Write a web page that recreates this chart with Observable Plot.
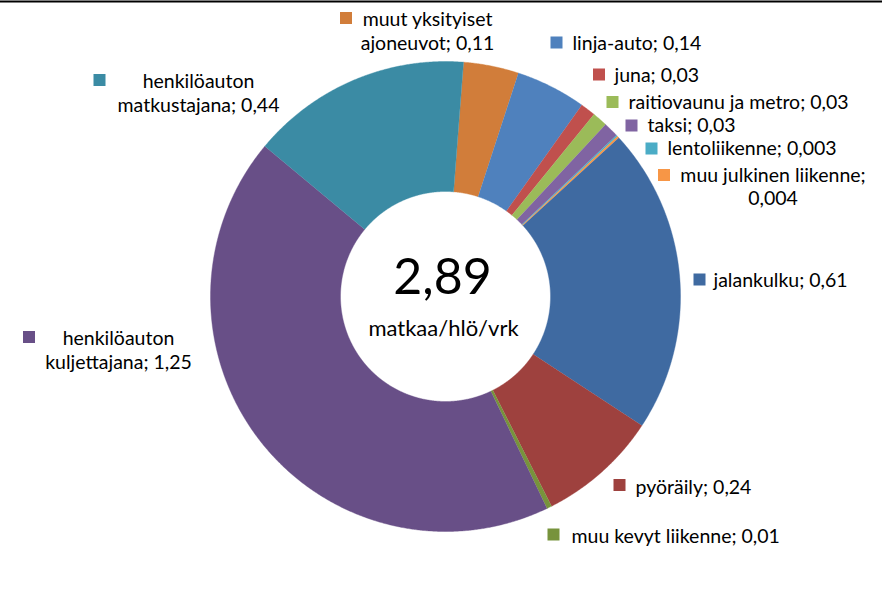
<!DOCTYPE html>
<html><head><meta charset="utf-8">
<script src="https://cdn.jsdelivr.net/npm/d3@7"></script>
<script src="https://cdn.jsdelivr.net/npm/@observablehq/plot@0.6"></script>
<style>
body{margin:0;background:#fff;}
#chart svg{display:block;}
</style></head><body><div id="chart"></div>
<script>
// ---- data ----
const categories = ["muut yksityiset ajoneuvot","linja-auto","juna","raitiovaunu ja metro","taksi","lentoliikenne","muu julkinen liikenne","jalankulku","pyöräily","muu kevyt liikenne","henkilöauton kuljettajana","henkilöauton matkustajana"];
const values = [0.11,0.14,0.03,0.03,0.03,0.003,0.004,0.61,0.24,0.01,1.25,0.44];
const valueLabels = ["0,11","0,14","0,03","0,03","0,03","0,003","0,004","0,61","0,24","0,01","1,25","0,44"];
const totalLabel = "2,89";
const unitLabel = "matkaa/hlö/vrk";

// ---- styles / layout ----
const colors = ["#D17D3A","#4F81BD","#C0504D","#9BBB59","#8064A2","#4BACC6","#F79646","#3F6AA1","#9E413E","#77933C","#684F87","#3B8BA4"];
const W = 882, H = 591, cx = 445, cy = 296, R = 235, r0 = 105;
const startDeg = 4.4;
const FONT = "Lato, 'Open Sans', sans-serif";
const FS = 19.5;
// label layout: key square centre, break position (nth space), and line positions
const labelLayout = [
  {key:[346,18], brk:2, lines:[[427,19,"middle"],[427,43,"middle"]]},
  {key:[556.5,42.5], brk:0, lines:[[572,43,"start"]]},
  {key:[599,74.5], brk:0, lines:[[614,75,"start"]]},
  {key:[612.5,102], brk:0, lines:[[628,102,"start"]]},
  {key:[631.5,125.5], brk:0, lines:[[647,125,"start"]]},
  {key:[651.5,148.5], brk:0, lines:[[667,148,"start"]]},
  {key:[664,175], brk:3, lines:[[772.5,175,"middle"],[772.5,198,"middle"]]},
  {key:[699.5,279.5], brk:0, lines:[[713,280,"start"]]},
  {key:[619.5,485], brk:0, lines:[[635,487,"start"]]},
  {key:[553.5,534.5], brk:0, lines:[[571,536,"start"]]},
  {key:[29,337], brk:1, lines:[[118,338,"middle"],[118,362,"middle"]]},
  {key:[99.5,80], brk:1, lines:[[198,81,"middle"],[198,105,"middle"]]}
];

const data = categories.map((name, i) => ({name, value: values[i], label: name + "; " + valueLabels[i], color: colors[i], i}));

const pie = d3.pie().sort(null).value(d => d.value)
  .startAngle(startDeg * Math.PI / 180).endAngle(startDeg * Math.PI / 180 + 2 * Math.PI);
const arcs = pie(data);
const pts = [];
arcs.forEach(a => {
  const n = Math.max(2, Math.ceil((a.endAngle - a.startAngle) / 0.005));
  for (let k = 0; k <= n; k++) {
    const t = a.startAngle + (a.endAngle - a.startAngle) * k / n;
    pts.push({name: a.data.name, color: a.data.color, x: cx + R * Math.sin(t), y: cy - R * Math.cos(t)});
  }
  for (let k = n; k >= 0; k--) {
    const t = a.startAngle + (a.endAngle - a.startAngle) * k / n;
    pts.push({name: a.data.name, color: a.data.color, x: cx + r0 * Math.sin(t), y: cy - r0 * Math.cos(t)});
  }
});

// labels
const keys = [], lineRows = [];
data.forEach((d, i) => {
  const L = labelLayout[i];
  const s = 6;
  keys.push({x1: L.key[0] - s, x2: L.key[0] + s, y1: L.key[1] - s, y2: L.key[1] + s, color: d.color});
  let parts = [d.label];
  if (L.brk > 0) {
    let idx = -1;
    for (let k = 0; k < L.brk; k++) idx = d.label.indexOf(" ", idx + 1);
    parts = [d.label.slice(0, idx), d.label.slice(idx + 1)];
  }
  parts.forEach((p, j) => lineRows.push({text: p, x: L.lines[j][0], y: L.lines[j][1], anchor: L.lines[j][2]}));
});

const chart = Plot.plot({
  width: W, height: H,
  margin: 0,
  x: {domain: [0, W], range: [0, W], axis: null},
  y: {domain: [0, H], range: [0, H], axis: null},
  color: {type: "identity"},
  style: {background: "#fff"},
  marks: [
    Plot.line(pts, {x: "x", y: "y", z: "name", fill: "color", stroke: "color", strokeWidth: 0.4}),
    Plot.rect(keys, {x1: "x1", x2: "x2", y1: "y1", y2: "y2", fill: "color"}),
    Plot.text(lineRows.filter(d => d.anchor === "start"), {x: "x", y: "y", text: "text", textAnchor: "start", lineAnchor: "middle", fontFamily: FONT, fontSize: FS, fill: "#000"}),
    Plot.text(lineRows.filter(d => d.anchor === "middle"), {x: "x", y: "y", text: "text", textAnchor: "middle", lineAnchor: "middle", fontFamily: FONT, fontSize: FS, fill: "#000"}),
    Plot.text([totalLabel], {x: () => cx - 3, y: () => 277, text: d => d, textAnchor: "middle", lineAnchor: "middle", fontFamily: FONT, fontSize: 50, fill: "#000"}),
    Plot.text([unitLabel], {x: () => cx - 2, y: () => 328, text: d => d, textAnchor: "middle", lineAnchor: "middle", fontFamily: FONT, fontSize: 22, fill: "#000"}),
    Plot.ruleY([1], {y: d => d, stroke: "#000", strokeWidth: 2})
  ]
});
document.getElementById("chart").appendChild(chart);
</script>
</body></html>
